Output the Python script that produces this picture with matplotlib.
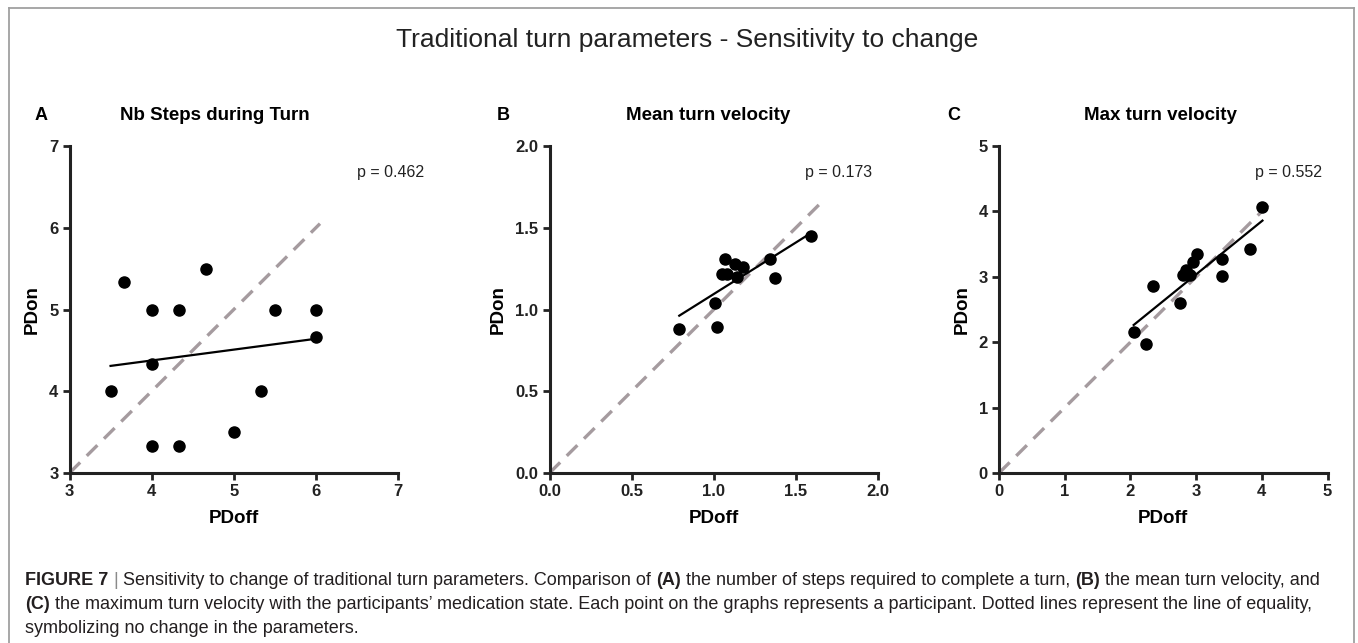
import numpy as np
import matplotlib
matplotlib.use("Agg")
import matplotlib.pyplot as plt
from matplotlib.lines import Line2D

# values: x = PDoff, y = PDon
steps_off = [3.5, 3.667, 4.0, 4.333, 4.667, 5.5, 6.0, 6.0, 4.0, 5.333, 5.0, 4.0, 4.333]
steps_on = [4.0, 5.333, 5.0, 5.0, 5.5, 5.0, 5.0, 4.667, 4.333, 4.0, 3.5, 3.333, 3.333]

mean_off = [0.79, 1.01, 1.02, 1.07, 1.05, 1.08, 1.13, 1.14, 1.18, 1.34, 1.37, 1.59]
mean_on = [0.88, 1.04, 0.89, 1.31, 1.22, 1.22, 1.28, 1.20, 1.26, 1.31, 1.19, 1.45]

max_off = [2.05, 2.24, 2.34, 2.76, 2.80, 2.84, 2.90, 2.95, 3.01, 3.39, 3.40, 3.82, 4.01]
max_on = [2.16, 1.97, 2.86, 2.60, 3.02, 3.10, 3.02, 3.22, 3.35, 3.01, 3.27, 3.43, 4.07]

letters = ["A", "B", "C"]
titles = ["Nb Steps during Turn", "Mean turn velocity", "Max turn velocity"]
p_values = ["p = 0.462", "p = 0.173", "p = 0.552"]
ticks_a = [3, 4, 5, 6, 7]
ticks_b = [0.0, 0.5, 1.0, 1.5, 2.0]
ticks_c = [0, 1, 2, 3, 4, 5]
eq_end = [6.05, 1.66, 4.16]  # where the dashed line of equality stops

W, H = 1358, 643
fig = plt.figure(figsize=(W / 100, H / 100), dpi=100)

plt.rcParams['font.family'] = ['Liberation Sans', 'DejaVu Sans']


def fx(px):
    return px / W


def fy(py):
    return 1 - py / H


# grey frame round the figure
for xs, ys in [([9, 1354], [8, 8]), ([9, 9], [8, H]), ([1354, 1354], [8, H])]:
    fig.add_artist(Line2D([fx(v) for v in xs], [fy(v) for v in ys],
                          color='#a0a0a0', lw=1.3))

fig.text(fx(687), fy(40), "Traditional turn parameters - Sensitivity to change",
         ha='center', va='center', fontsize=19, color='#222222')

panels = [
    (steps_off, steps_on, ticks_a, "{:.0f}", 69.5, 35, 215, 357),
    (mean_off, mean_on, ticks_b, "{:.1f}", 549.5, 497, 708, 805),
    (max_off, max_on, ticks_c, "{:.0f}", 999, 947, 1160, 1255),
]

for i, (x, y, ticks, fmt, left, let_x, tit_x, p_x) in enumerate(panels):
    ax = fig.add_axes([fx(left), fy(473), 328.5 / W, 327 / H])
    lo, hi = ticks[0], ticks[-1]

    # line of equality
    ax.plot([lo, eq_end[i]], [lo, eq_end[i]], color='#a59b9f', lw=2.4,
            ls=(0, (4.5, 2.8)), dash_capstyle='butt', zorder=1)

    # linear fit
    slope, icpt = np.polyfit(x, y, 1)
    xs = np.array([min(x), max(x)])
    ax.plot(xs, icpt + slope * xs, color='black', lw=1.6, zorder=2)

    ax.plot(x, y, 'o', color='black', ms=8, clip_on=False, zorder=3)

    ax.set_xlim(lo, hi)
    ax.set_ylim(lo, hi)
    ax.set_xticks(ticks)
    ax.set_yticks(ticks)
    ax.set_xticklabels([fmt.format(t) for t in ticks], fontweight='bold', fontsize=12)
    ax.set_yticklabels([fmt.format(t) for t in ticks], fontweight='bold', fontsize=12)
    ax.tick_params(direction='out', length=5, width=2, pad=3, colors='#222222')
    for s in ['top', 'right']:
        ax.spines[s].set_visible(False)
    for s in ['left', 'bottom']:
        ax.spines[s].set_linewidth(2.2)
        ax.spines[s].set_color('#222222')
    ax.set_xlabel("PDoff", fontweight='bold', fontsize=13.5, labelpad=8)
    ax.set_ylabel("PDon", fontweight='bold', fontsize=13.5, labelpad=6)

    fig.text(fx(let_x), fy(116), letters[i], ha='left', va='center',
             fontsize=13, fontweight='bold')
    fig.text(fx(tit_x), fy(116), titles[i], ha='center', va='center',
             fontsize=13.5, fontweight='bold')
    fig.text(fx(p_x), fy(172), p_values[i], ha='left', va='center',
             fontsize=11.5, color='#222222')

# caption, written run by run so that some words can be bold
renderer = fig.canvas.get_renderer()
cap_size = 13.0
cap_col = '#231f20'


def run_width(s, weight='normal'):
    t = fig.text(0, 0, s, fontsize=cap_size, fontweight=weight)
    w = t.get_window_extent(renderer).width
    t.remove()
    return w


space = run_width("a a") - run_width("aa")


def caption_line(runs, ybase, x0=25):
    xpos = x0
    for s, weight, color in runs:
        t = fig.text(fx(xpos), fy(ybase), s, fontsize=cap_size, fontweight=weight,
                     color=color, ha='left', va='baseline')
        xpos = t.get_window_extent(renderer).x1 + space


caption_line([
    ("FIGURE 7", 'bold', cap_col),
    ("|", 'normal', '#8a8a8a'),
    ("Sensitivity to change of traditional turn parameters. Comparison of", 'normal', cap_col),
    ("(A)", 'bold', cap_col),
    ("the number of steps required to complete a turn,", 'normal', cap_col),
    ("(B)", 'bold', cap_col),
    ("the mean turn velocity, and", 'normal', cap_col),
], 585)
caption_line([
    ("(C)", 'bold', cap_col),
    ("the maximum turn velocity with the participants\u2019 medication state. Each point on the "
     "graphs represents a participant. Dotted lines represent the line of equality,", 'normal', cap_col),
], 609)
caption_line([
    ("symbolizing no change in the parameters.", 'normal', cap_col),
], 633)

fig.savefig("out.png", dpi=100)
